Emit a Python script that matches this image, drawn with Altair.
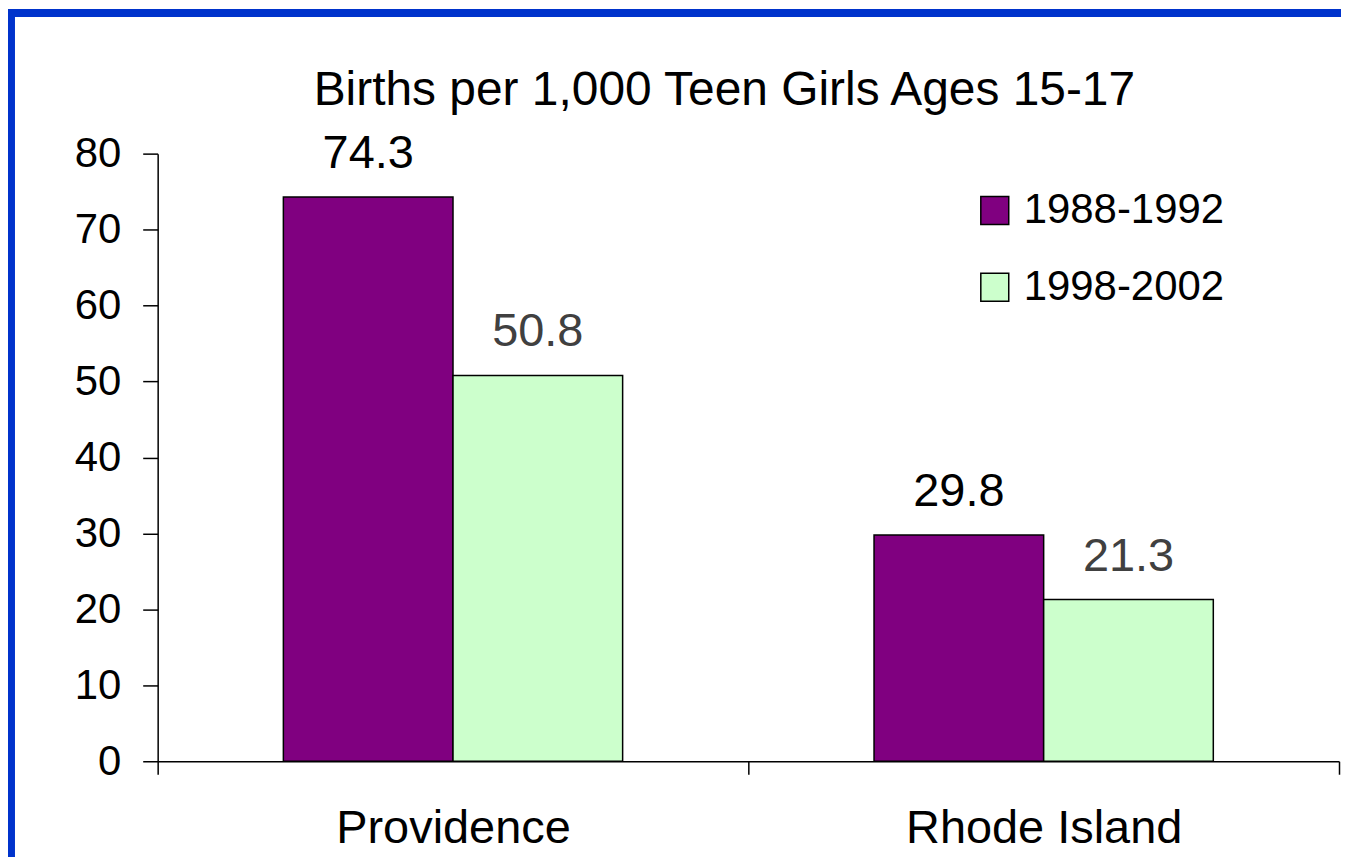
import altair as alt
import pandas as pd

# ---- data ----
categories = ["Providence", "Rhode Island"]
periods = ["1988-1992", "1998-2002"]
rate_1988_1992 = [74.3, 29.8]
rate_1998_2002 = [50.8, 21.3]
y_ticks = [0, 10, 20, 30, 40, 50, 60, 70, 80]
title_text = "Births per 1,000 Teen Girls Ages 15-17"
bar_colors = ["#800080", "#CCFFCC"]
label_colors = ["#000000", "#404040"]

rows = []
for i, c in enumerate(categories):
    rows.append({"place": c, "period": periods[0], "rate": rate_1988_1992[i]})
    rows.append({"place": c, "period": periods[1], "rate": rate_1998_2002[i]})
df = pd.DataFrame(rows)

W, H = 1184, 609
PAD = {"left": 150, "top": 145, "right": 2, "bottom": 96}
FONT = "Liberation Sans"

x = alt.X(
    "place:N",
    sort=categories,
    title=None,
    scale=alt.Scale(paddingInner=0, paddingOuter=0),
    axis=alt.Axis(
        tickBand="extent",
        labelAngle=0,
        labelFontSize=47,
        labelFont=FONT,
        labelColor="black",
        labelPadding=31,
        labelLimit=0,
        tickSize=13,
        tickColor="black",
        tickWidth=1.5,
        domainColor="black",
        domainWidth=1.5,
        grid=False,
    ),
)
xoff = alt.XOffset(
    "period:N", sort=periods, scale=alt.Scale(paddingInner=0, paddingOuter=0.741)
)
y = alt.Y(
    "rate:Q",
    title=None,
    scale=alt.Scale(domain=[0, 80], nice=False),
    axis=alt.Axis(
        values=y_ticks,
        labelFontSize=42,
        labelFont=FONT,
        labelColor="black",
        labelPadding=22,
        labelLimit=0,
        tickSize=15,
        tickColor="black",
        tickWidth=1.5,
        domainColor="black",
        domainWidth=1.5,
        grid=False,
    ),
)

base = alt.Chart(df).encode(x=x, xOffset=xoff, y=y)

bars = base.mark_bar(stroke="black", strokeWidth=1.5, opacity=1).encode(
    color=alt.Color(
        "period:N",
        sort=periods,
        scale=alt.Scale(domain=periods, range=bar_colors),
        legend=alt.Legend(
            title=None,
            orient="none",
            legendX=818,
            legendY=36,
            padding=0,
            symbolType="square",
            symbolSize=784,
            symbolStrokeColor="black",
            symbolStrokeWidth=1.5,
            symbolOpacity=1,
            labelFontSize=42,
            labelFont=FONT,
            labelColor="black",
            labelOffset=8,
            labelLimit=0,
            rowPadding=35,
        ),
    )
)

labels = base.mark_text(
    baseline="alphabetic", dy=-29, fontSize=47, font=FONT
).encode(
    text=alt.Text("rate:Q", format=".1f"),
    color=alt.condition(
        alt.datum.period == periods[1],
        alt.value(label_colors[1]),
        alt.value(label_colors[0]),
    ),
)

frame = alt.Chart(alt.Data(values=[{"k": 1}]))
left_strip = frame.mark_rect(color="#0033CC").encode(
    x=alt.value(-PAD["left"]), x2=alt.value(-PAD["left"] + 7),
    y=alt.value(-PAD["top"]), y2=alt.value(H + PAD["bottom"]),
)
top_strip = frame.mark_rect(color="#0033CC").encode(
    x=alt.value(-PAD["left"]), x2=alt.value(W + PAD["right"]),
    y=alt.value(-PAD["top"]), y2=alt.value(-PAD["top"] + 8),
)

chart = (
    alt.layer(bars, labels, left_strip, top_strip)
    .properties(
        width=W,
        height=H,
        padding=PAD,
        autosize=alt.AutoSizeParams(type="none"),
        title=alt.TitleParams(
            title_text,
            fontSize=48,
            font=FONT,
            fontWeight="normal",
            color="black",
            anchor="middle",
            baseline="alphabetic",
            dx=-24,
            offset=0,
            dy=144,
        ),
        background="white",
    )
    .configure_view(stroke=None)
)

chart.save("out.html", embed_options={"renderer": "svg", "actions": False})
